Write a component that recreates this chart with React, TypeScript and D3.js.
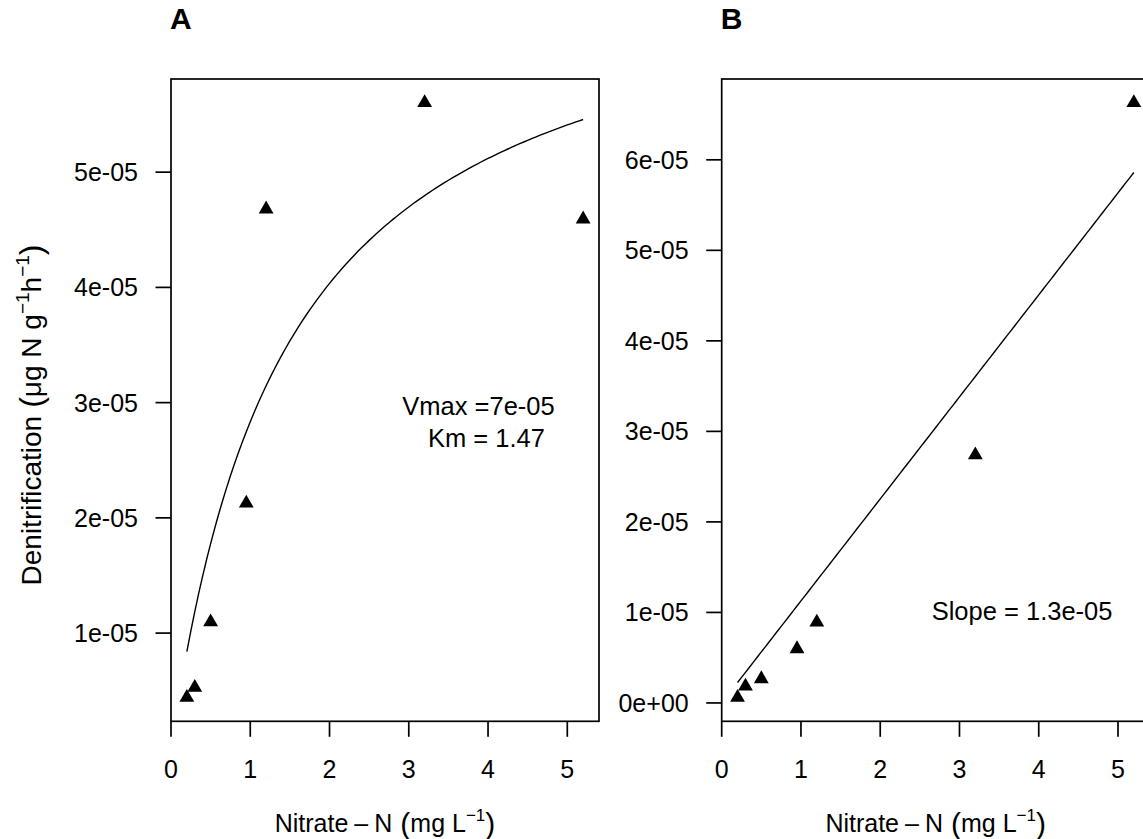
import React from "react";
import * as d3 from "d3";

// ---------- data ----------
const nitrate = [0.2, 0.3, 0.5, 0.95, 1.2, 3.2, 5.2];
const denitA = [0.441e-5, 0.528e-5, 1.096e-5, 2.127e-5, 4.679e-5, 5.602e-5, 4.592e-5];
const denitB = [0.06e-5, 0.184e-5, 0.266e-5, 0.597e-5, 0.891e-5, 2.738e-5, 6.63e-5];

const xTicks = [0, 1, 2, 3, 4, 5];
const yTicksA = [1e-5, 2e-5, 3e-5, 4e-5, 5e-5];
const yTicksB = [0, 1e-5, 2e-5, 3e-5, 4e-5, 5e-5, 6e-5];

// fitted models
const vmax = 7e-5;
const km = 1.47;
const slopeFit = 1.127e-5;

const panelTitles = ["A", "B"];
const annotA = [
  { text: "Vmax =7e-05", x: 3.88, y: 2.97e-5 },
  { text: "Km = 1.47", x: 3.98, y: 2.693e-5 },
];
const annotB = [{ text: "Slope = 1.3e-05", x: 3.79, y: 1.016e-5 }];

// ---------- helpers ----------
const FONT = "'Liberation Sans', Arial, Helvetica, sans-serif";
const FS = 25;
const FS_ANN = 25.5;

function rExtent(vals: number[]): [number, number] {
  const mn = d3.min(vals)!;
  const mx = d3.max(vals)!;
  const pad = (mx - mn) * 0.04;
  return [mn - pad, mx + pad];
}

function sciFmt(v: number): string {
  if (v === 0) return "0e+00";
  const e = Math.floor(Math.log10(Math.abs(v)) + 1e-9);
  const m = Math.round(v / Math.pow(10, e));
  const sign = e < 0 ? "-" : "+";
  const ae = Math.abs(e);
  return `${m}e${sign}${ae < 10 ? "0" + ae : ae}`;
}

function triPath(cx: number, cy: number): string {
  const size = 5.5;
  const r = 1.5551 * size;
  const xc = 1.3468 * size;
  const yc = 0.7776 * size;
  return `M${cx},${cy - r}L${cx + xc},${cy + yc}L${cx - xc},${cy + yc}Z`;
}

type PanelProps = {
  left: number;
  right: number;
  top: number;
  bottom: number;
  ys: number[];
  yTicks: number[];
  title: string;
  kind: "mm" | "lin";
  annots: { text: string; x: number; y: number }[];
};

function Panel({ left, right, top, bottom, ys, yTicks, title, kind, annots }: PanelProps) {
  const x = d3.scaleLinear().domain(rExtent(nitrate)).range([left, right]);
  const y = d3.scaleLinear().domain(rExtent(ys)).range([bottom, top]);
  const xs0 = d3.min(nitrate)!;
  const xs1 = d3.max(nitrate)!;
  const curveX = d3.range(0, 101).map((i) => xs0 + ((xs1 - xs0) * i) / 100);
  const model = (v: number) => (kind === "mm" ? (vmax * v) / (km + v) : slopeFit * v);
  const line = d3
    .line<number>()
    .x((v) => x(v))
    .y((v) => y(model(v)));
  const tick = 15.5;
  const cx = (left + right) / 2;
  return (
    <g>
      <text x={left - 1} y={29} fontFamily={FONT} fontSize={30} fontWeight="bold">
        {title}
      </text>
      <rect x={left} y={top} width={right - left} height={bottom - top} fill="none" stroke="#000" strokeWidth={1.7} />
      {xTicks.map((t) => (
        <g key={"x" + t}>
          <line x1={x(t)} x2={x(t)} y1={bottom} y2={bottom + tick} stroke="#000" strokeWidth={1.7} />
          <text x={x(t)} y={bottom + 57} textAnchor="middle" fontFamily={FONT} fontSize={FS}>
            {t}
          </text>
        </g>
      ))}
      {yTicks.map((t) => (
        <g key={"y" + t}>
          <line x1={left - tick} x2={left} y1={y(t)} y2={y(t)} stroke="#000" strokeWidth={1.7} />
          <text x={left - 33} y={y(t) + 9} textAnchor="end" fontFamily={FONT} fontSize={FS}>
            {sciFmt(t)}
          </text>
        </g>
      ))}
      <path d={line(curveX) || ""} fill="none" stroke="#000" strokeWidth={1.4} />
      {nitrate.map((v, i) => (
        <path key={"p" + i} d={triPath(x(v), y(ys[i]))} fill="#000" />
      ))}
      {annots.map((a, i) => (
        <text key={"a" + i} x={x(a.x)} y={y(a.y) + 9} textAnchor="middle" fontFamily={FONT} fontSize={FS_ANN}>
          {a.text}
        </text>
      ))}
      <text x={cx} y={832} textAnchor="middle" fontFamily={FONT} fontSize={FS}>
        <tspan>Nitrate</tspan>
        <tspan dx={6}>–</tspan>
        <tspan dx={6}>N</tspan>
        <tspan dx={8} fontSize={30} dy={2}>(</tspan>
        <tspan fontSize={FS} dy={-2}>mg L</tspan>
        <tspan fontSize={17} dy={-11}>−1</tspan>
        <tspan fontSize={30} dy={13}>)</tspan>
      </text>
    </g>
  );
}

export default function App() {
  const top = 79;
  const bottom = 721.3;
  return (
    <svg
      width={1143}
      height={839}
      style={{ position: "absolute", left: 0, top: 0, background: "#fff" }}
    >
      <rect x={0} y={0} width={1143} height={839} fill="#fff" />
      <Panel left={171} right={599} top={top} bottom={bottom} ys={denitA} yTicks={yTicksA} title={panelTitles[0]} kind="mm" annots={annotA} />
      <Panel left={721.7} right={1149.7} top={top} bottom={bottom} ys={denitB} yTicks={yTicksB} title={panelTitles[1]} kind="lin" annots={annotB} />
      <text
        transform={`translate(41,415) rotate(-90)`}
        textAnchor="middle"
        fontFamily={FONT}
        fontSize={28}
      >
        <tspan>Denitrification</tspan>
        <tspan dx={8} fontSize={32} dy={1}>(</tspan>
        <tspan fontSize={28} dy={-1}>μg N g</tspan>
        <tspan fontSize={19} dy={-12}>−1</tspan>
        <tspan fontSize={28} dy={12}>h</tspan>
        <tspan fontSize={19} dy={-12}>−1</tspan>
        <tspan fontSize={32} dy={13}>)</tspan>
      </text>
    </svg>
  );
}
